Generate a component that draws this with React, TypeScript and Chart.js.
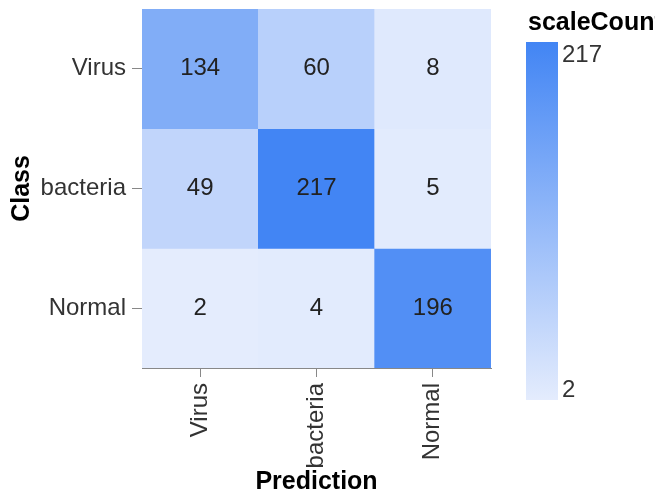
import React, { useEffect, useRef } from "react";
import { Chart, registerables } from "chart.js";

Chart.register(...registerables);

const classes = ["Virus", "bacteria", "Normal"];
const predictions = ["Virus", "bacteria", "Normal"];
const virusRow = [134, 60, 8];
const bacteriaRow = [49, 217, 5];
const normalRow = [2, 4, 196];
const rows = [virusRow, bacteriaRow, normalRow];
const legendTicks = [2, 217];
const legendTitle = "scaleCount";
const xTitle = "Prediction";
const yTitle = "Class";

const FONT = "'Liberation Sans', Arial, sans-serif";
const LIGHT = [228, 236, 253];
const DARK = [66, 133, 244];

function colorFor(v: number) {
  const mn = legendTicks[0];
  const mx = legendTicks[legendTicks.length - 1];
  const t = Math.max(0, Math.min(1, (v - mn) / (mx - mn)));
  const c = LIGHT.map((l, i) => Math.round(l + (DARK[i] - l) * t));
  return `rgb(${c[0]},${c[1]},${c[2]})`;
}

const cellLabels = {
  id: "cellLabels",
  afterDatasetsDraw(chart: any) {
    const ctx = chart.ctx;
    ctx.save();
    ctx.font = `24px ${FONT}`;
    ctx.fillStyle = "#222";
    ctx.textAlign = "center";
    ctx.textBaseline = "middle";
    chart.data.datasets.forEach((ds: any, i: number) => {
      const meta = chart.getDatasetMeta(i);
      meta.data.forEach((el: any, j: number) => {
        const p = el.getCenterPoint();
        ctx.fillText(String(ds.counts[j]), p.x, p.y);
      });
    });
    ctx.restore();
  },
};

const gradientLegend = {
  id: "gradientLegend",
  afterDraw(chart: any) {
    const ctx = chart.ctx;
    const area = chart.chartArea;
    const x0 = area.right + 35;
    const w = 32;
    const top = 42;
    const bottom = 400;
    ctx.save();
    const g = ctx.createLinearGradient(0, top, 0, bottom);
    g.addColorStop(0, colorFor(legendTicks[legendTicks.length - 1]));
    g.addColorStop(1, colorFor(legendTicks[0]));
    ctx.fillStyle = g;
    ctx.fillRect(x0, top, w, bottom - top);
    ctx.fillStyle = "#333";
    ctx.font = `24px ${FONT}`;
    ctx.textAlign = "left";
    ctx.textBaseline = "alphabetic";
    ctx.fillText(String(legendTicks[legendTicks.length - 1]), x0 + 36, top + 19.5);
    ctx.fillText(String(legendTicks[0]), x0 + 36, bottom - 3);
    ctx.fillStyle = "#000";
    ctx.font = `bold 25px ${FONT}`;
    ctx.fillText(legendTitle, x0 + 2, 30);
    ctx.restore();
  },
};

export default function App() {
  const ref = useRef<HTMLCanvasElement>(null);
  useEffect(() => {
    document.body.style.margin = "0";
    const datasets = rows.map((row, i) => ({
      label: classes[i],
      data: row.map(() => [i, i + 1]),
      counts: row,
      backgroundColor: row.map((v) => colorFor(v)),
      borderWidth: 0,
      grouped: false,
      barPercentage: 1,
      categoryPercentage: 1,
    }));
    const chart = new Chart(ref.current!, {
      type: "bar",
      data: { labels: predictions, datasets: datasets as any },
      options: {
        responsive: false,
        animation: false,
        layout: { padding: { top: 9, right: 164, left: 0, bottom: 0 } },
        plugins: { legend: { display: false }, tooltip: { enabled: false } },
        scales: {
          x: {
            offset: true,
            afterFit: (s: any) => {
              s.height = 128;
              s.paddingLeft = 0;
              s.paddingRight = 0;
            },
            grid: {
              offset: false,
              drawOnChartArea: false,
              drawTicks: true,
              tickLength: 9,
              tickColor: "#888",
            },
            border: { display: true, color: "#888", width: 1 },
            ticks: {
              autoSkip: false,
              minRotation: 90,
              maxRotation: 90,
              padding: 6,
              color: "#333",
              font: { family: FONT, size: 24 },
            },
            title: {
              display: true,
              text: xTitle,
              color: "#000",
              font: { family: FONT, size: 25, weight: "bold", lineHeight: 1 },
              padding: { top: 0, bottom: 1 },
            },
          },
          y: {
            type: "linear",
            min: 0,
            max: 3,
            reverse: true,
            afterFit: (s: any) => {
              s.width = 142;
              s.paddingTop = 0;
              s.paddingBottom = 0;
            },
            afterBuildTicks: (s: any) => {
              s.ticks = classes.map((_, i) => ({ value: i + 0.5 }));
            },
            grid: {
              drawOnChartArea: false,
              drawTicks: true,
              tickLength: 10,
              tickColor: "#888",
            },
            border: { display: true, color: "#888", width: 1 },
            ticks: {
              padding: 6,
              color: "#333",
              font: { family: FONT, size: 24 },
              callback: (v: any) => classes[Math.floor(Number(v))] ?? "",
            },
            title: {
              display: true,
              text: yTitle,
              color: "#000",
              font: { family: FONT, size: 25, weight: "bold", lineHeight: 1 },
              padding: { top: 10, bottom: 0 },
            },
          },
        },
      },
      plugins: [cellLabels, gradientLegend],
    });
    return () => chart.destroy();
  }, []);
  return (
    <div style={{ width: 655, height: 496 }}>
      <canvas ref={ref} width={655} height={496} />
    </div>
  );
}
